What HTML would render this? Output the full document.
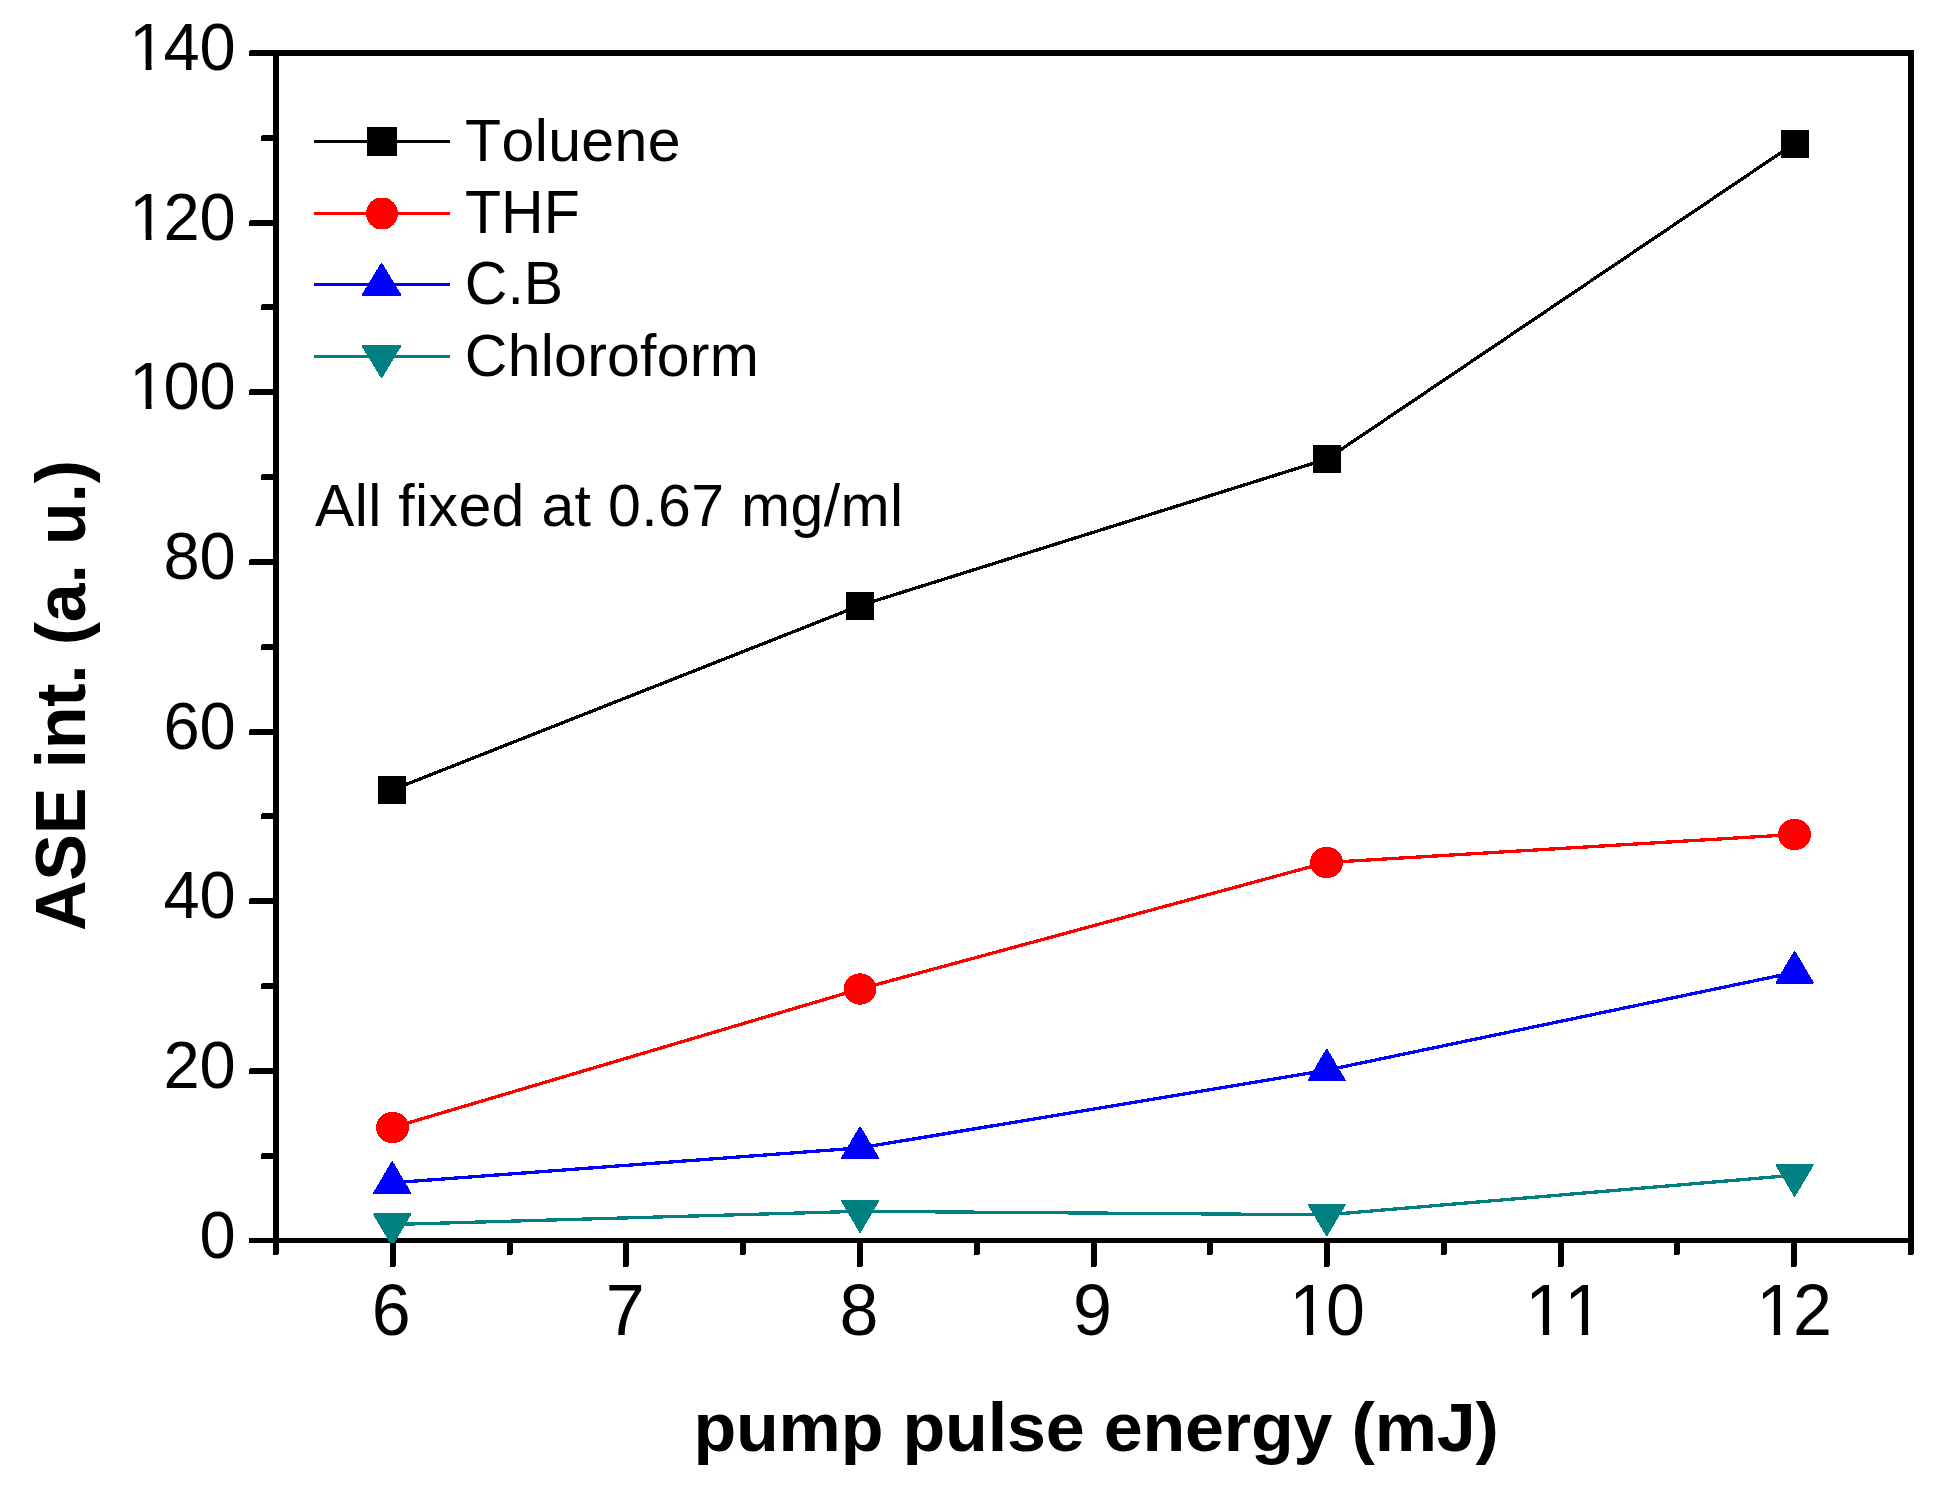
<!DOCTYPE html>
<html lang="en">
<head>
<meta charset="utf-8">
<title>ASE int. vs pump pulse energy</title>
<style>
html,body{margin:0;padding:0;background:#fff;}
body{width:1938px;height:1497px;overflow:hidden;}
svg{display:block;}
text{font-family:"Liberation Sans",Arial,Helvetica,sans-serif;fill:#000;font-kerning:none;}
.b{font-weight:bold;}
</style>
</head>
<body>
<svg width="1938" height="1497" viewBox="0 0 1938 1497">
<rect x="0" y="0" width="1938" height="1497" fill="#ffffff"/>
<g id="frame" fill="#000" shape-rendering="crispEdges">
<rect x="273" y="50" width="1641" height="6"/>
<rect x="273" y="1238" width="1641" height="5"/>
<rect x="273" y="50" width="6" height="1193"/>
<rect x="1908" y="50" width="6" height="1193"/>
</g>
<g id="yticks" fill="#000" shape-rendering="crispEdges">
<rect x="249" y="1238" width="29" height="5" rx="0"/>
<rect x="261" y="1153" width="17" height="6" rx="2"/>
<rect x="249" y="1068" width="29" height="6" rx="2"/>
<rect x="261" y="983" width="17" height="6" rx="2"/>
<rect x="249" y="898" width="29" height="6" rx="2"/>
<rect x="261" y="813" width="17" height="6" rx="2"/>
<rect x="249" y="729" width="29" height="6" rx="2"/>
<rect x="261" y="644" width="17" height="6" rx="2"/>
<rect x="249" y="559" width="29" height="6" rx="2"/>
<rect x="261" y="474" width="17" height="6" rx="2"/>
<rect x="249" y="389" width="29" height="6" rx="2"/>
<rect x="261" y="304" width="17" height="6" rx="2"/>
<rect x="249" y="220" width="29" height="6" rx="2"/>
<rect x="261" y="135" width="17" height="6" rx="2"/>
<rect x="249" y="50" width="29" height="6" rx="2"/>
</g>
<g id="xticks" fill="#000" shape-rendering="crispEdges">
<rect x="273" y="1239" width="6" height="16" rx="2"/>
<rect x="390" y="1239" width="6" height="28" rx="2"/>
<rect x="507" y="1239" width="6" height="16" rx="2"/>
<rect x="623" y="1239" width="6" height="28" rx="2"/>
<rect x="740" y="1239" width="6" height="16" rx="2"/>
<rect x="857" y="1239" width="6" height="28" rx="2"/>
<rect x="974" y="1239" width="6" height="16" rx="2"/>
<rect x="1091" y="1239" width="6" height="28" rx="2"/>
<rect x="1207" y="1239" width="6" height="16" rx="2"/>
<rect x="1324" y="1239" width="6" height="28" rx="2"/>
<rect x="1441" y="1239" width="6" height="16" rx="2"/>
<rect x="1558" y="1239" width="6" height="28" rx="2"/>
<rect x="1674" y="1239" width="6" height="16" rx="2"/>
<rect x="1791" y="1239" width="6" height="28" rx="2"/>
<rect x="1908" y="1239" width="6" height="16" rx="2"/>
</g>
<defs><clipPath id="clip100_65"><rect x="-6" y="-78.0" width="120.4" height="71.84"/><rect x="18.41" y="-6.66" width="5.84" height="10.16"/><rect x="36.15" y="-6.66" width="36.15" height="19.16"/><rect x="72.30" y="-6.66" width="36.15" height="19.16"/></clipPath><clipPath id="clip120_65"><rect x="-6" y="-78.0" width="120.4" height="71.84"/><rect x="18.41" y="-6.66" width="5.84" height="10.16"/><rect x="36.15" y="-6.66" width="36.15" height="19.16"/><rect x="72.30" y="-6.66" width="36.15" height="19.16"/></clipPath><clipPath id="clip140_65"><rect x="-6" y="-78.0" width="120.4" height="71.84"/><rect x="18.41" y="-6.66" width="5.84" height="10.16"/><rect x="36.15" y="-6.66" width="36.15" height="19.16"/><rect x="72.30" y="-6.66" width="36.15" height="19.16"/></clipPath><clipPath id="clip10_70"><rect x="-6" y="-84.0" width="89.9" height="77.47"/><rect x="19.83" y="-7.03" width="6.29" height="10.53"/><rect x="38.93" y="-7.03" width="38.93" height="20.53"/></clipPath><clipPath id="clip11_70"><rect x="-6" y="-84.0" width="89.9" height="77.47"/><rect x="19.83" y="-7.03" width="6.29" height="10.53"/><rect x="58.76" y="-7.03" width="6.29" height="10.53"/></clipPath><clipPath id="clip12_70"><rect x="-6" y="-84.0" width="89.9" height="77.47"/><rect x="19.83" y="-7.03" width="6.29" height="10.53"/><rect x="38.93" y="-7.03" width="38.93" height="20.53"/></clipPath></defs>
<g id="ylabels">
<text transform="translate(199.55,1257.5) scale(1,1.022)" font-size="65">0</text>
<text transform="translate(163.40,1087.9) scale(1,1.022)" font-size="65">20</text>
<text transform="translate(163.40,918.2) scale(1,1.022)" font-size="65">40</text>
<text transform="translate(163.40,748.6) scale(1,1.022)" font-size="65">60</text>
<text transform="translate(163.40,578.9) scale(1,1.022)" font-size="65">80</text>
<text transform="translate(127.25,409.3) scale(1,1.022)" font-size="65" dx="2.11,-2.11,0.00" clip-path="url(#clip100_65)">100</text>
<text transform="translate(127.25,239.6) scale(1,1.022)" font-size="65" dx="2.11,-2.11,0.00" clip-path="url(#clip120_65)">120</text>
<text transform="translate(127.25,70.0) scale(1,1.022)" font-size="65" dx="2.11,-2.11,0.00" clip-path="url(#clip140_65)">140</text>
</g>
<g id="xlabels">
<text transform="translate(371.83,1334.6) scale(1,1.04)" font-size="70">6</text>
<text transform="translate(605.73,1334.6) scale(1,1.04)" font-size="70">7</text>
<text transform="translate(839.53,1334.6) scale(1,1.04)" font-size="70">8</text>
<text transform="translate(1073.03,1334.6) scale(1,1.04)" font-size="70">9</text>
<text transform="translate(1287.07,1334.6) scale(1,1.04)" font-size="70" dx="2.27,-2.27" clip-path="url(#clip10_70)">10</text>
<text transform="translate(1523.07,1334.6) scale(1,1.04)" font-size="70" dx="2.27,0.00" clip-path="url(#clip11_70)">11</text>
<text transform="translate(1753.97,1334.6) scale(1,1.04)" font-size="70" dx="2.27,-2.27" clip-path="url(#clip12_70)">12</text>
</g>
<defs><clipPath id="plotclip"><rect x="273" y="50" width="1641" height="1193"/></clipPath></defs>
<g id="series" shape-rendering="crispEdges" clip-path="url(#plotclip)">
<polyline points="392,790 860,605.5 1327,459 1794.5,143.5" fill="none" stroke="#000000" stroke-width="3.3"/>
<polyline points="392.5,1127.5 860,989 1326.5,862.5 1794.5,834.5" fill="none" stroke="#ff0000" stroke-width="3.3"/>
<polyline points="392.2,1182.8 860.1,1147.9 1326.7,1070.2 1794.6,972.4" fill="none" stroke="#0000ff" stroke-width="3.3"/>
<polyline points="392.2,1224.5 860.1,1211.3 1326.7,1214.8 1794.6,1175.2" fill="none" stroke="#008080" stroke-width="3.3"/>
<rect x="378.0" y="776.0" width="28" height="28" fill="#000000"/>
<rect x="846.0" y="591.5" width="28" height="28" fill="#000000"/>
<rect x="1313.0" y="445.0" width="28" height="28" fill="#000000"/>
<rect x="1780.5" y="129.5" width="28" height="28" fill="#000000"/>
<ellipse cx="392.5" cy="1127.5" rx="16.4" ry="15.7" fill="#ff0000"/>
<ellipse cx="860" cy="989" rx="16.4" ry="15.7" fill="#ff0000"/>
<ellipse cx="1326.5" cy="862.5" rx="16.4" ry="15.7" fill="#ff0000"/>
<ellipse cx="1794.5" cy="834.5" rx="16.4" ry="15.7" fill="#ff0000"/>
<polygon points="392.2,1162.40 410.2,1193.00 374.2,1193.00" fill="#0000ff" stroke="#0000ff" stroke-width="2" stroke-linejoin="round"/>
<polygon points="860.1,1127.50 878.1,1158.10 842.1,1158.10" fill="#0000ff" stroke="#0000ff" stroke-width="2" stroke-linejoin="round"/>
<polygon points="1326.7,1049.80 1344.7,1080.40 1308.7,1080.40" fill="#0000ff" stroke="#0000ff" stroke-width="2" stroke-linejoin="round"/>
<polygon points="1794.6,952.00 1812.6,982.60 1776.6,982.60" fill="#0000ff" stroke="#0000ff" stroke-width="2" stroke-linejoin="round"/>
<polygon points="392.2,1244.90 410.2,1214.30 374.2,1214.30" fill="#008080" stroke="#008080" stroke-width="2" stroke-linejoin="round"/>
<polygon points="860.1,1231.70 878.1,1201.10 842.1,1201.10" fill="#008080" stroke="#008080" stroke-width="2" stroke-linejoin="round"/>
<polygon points="1326.7,1235.20 1344.7,1204.60 1308.7,1204.60" fill="#008080" stroke="#008080" stroke-width="2" stroke-linejoin="round"/>
<polygon points="1794.6,1195.60 1812.6,1165.00 1776.6,1165.00" fill="#008080" stroke="#008080" stroke-width="2" stroke-linejoin="round"/>
</g>
<g id="legend" shape-rendering="crispEdges">
<rect x="314" y="140.0" width="136" height="3" fill="#000000"/>
<rect x="367" y="127.0" width="30" height="29" fill="#000000"/>
<rect x="314" y="212.0" width="136" height="3" fill="#ff0000"/>
<circle cx="382" cy="213.5" r="16" fill="#ff0000"/>
<rect x="314" y="283.0" width="136" height="3" fill="#0000ff"/>
<polygon points="381.5,264.03 400.1,294.73 362.9,294.73" fill="#0000ff" stroke="#0000ff" stroke-width="2" stroke-linejoin="round"/>
<rect x="314" y="355.0" width="136" height="3" fill="#008080"/>
<polygon points="381.5,376.97 400.1,346.27 362.9,346.27" fill="#008080" stroke="#008080" stroke-width="2" stroke-linejoin="round"/>
</g>
<g id="legendtext">
<text transform="translate(465,161) scale(1,1.0)" font-size="59" letter-spacing="0.4">Toluene</text>
<text transform="translate(465,233) scale(1,1.04)" font-size="59">THF</text>
<text transform="translate(464.8,303.8) scale(1,1.04)" font-size="59">C.B</text>
<text transform="translate(464.8,376) scale(1,1.0)" font-size="59" letter-spacing="0.25">Chloroform</text>
</g>
<text transform="translate(315,525.5) scale(1,1.015)" font-size="59" letter-spacing="0.35">All fixed at 0.67 mg/ml</text>
<text transform="translate(1096,1450.5) scale(1,0.985)" font-size="70" text-anchor="middle" letter-spacing="-0.17" class="b">pump pulse energy (mJ)</text>
<text transform="translate(84.5,695.6) rotate(-90) scale(1,1.015)" font-size="70" text-anchor="middle" letter-spacing="-0.23" class="b">ASE int. (a. u.)</text>
</svg>
</body>
</html>
